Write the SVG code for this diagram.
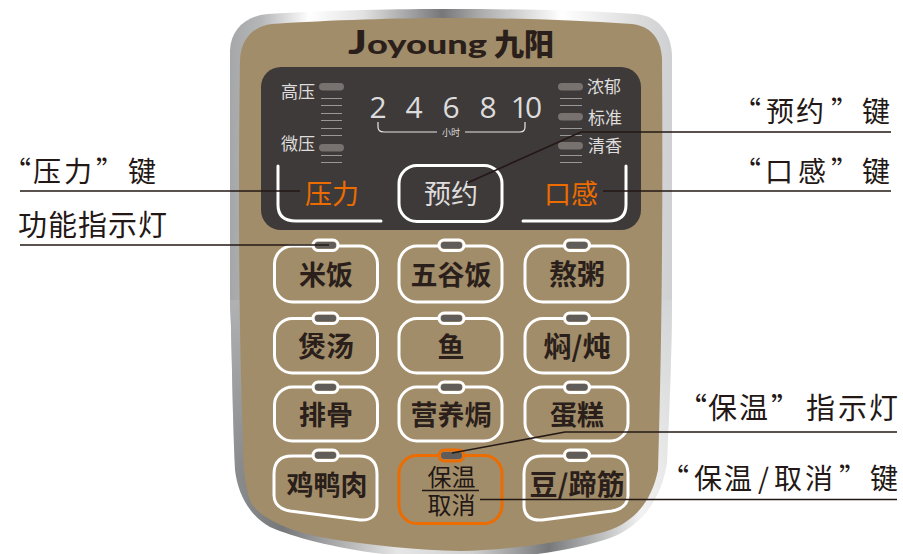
<svg xmlns="http://www.w3.org/2000/svg" width="903" height="554" viewBox="0 0 903 554">
<style>
text{font-family:"Noto Sans CJK SC","Noto Sans",sans-serif}
.btn{fill:none;stroke:#fff;stroke-width:3}
.ledo{fill:#a28d6a;stroke:#fff;stroke-width:3}
.led{fill:#5f5c5a}
.t{font-size:27px;font-weight:700;fill:#2a1f1a;text-anchor:middle}
.w{font-size:28px}
.lab{font-size:28px;fill:#231815}
.ln{fill:none;stroke:#231815;stroke-width:1.6}
.tick{stroke:#9a9896;stroke-width:1}
.pill{fill:#77726f}
.sm{font-size:17px;fill:#dedddc}
.num{font-family:"Open Sans","Noto Sans",sans-serif;font-size:30px;fill:#dcdcdc;text-anchor:middle}
.or{font-size:27px;fill:#ec6c00}
.wl{fill:none;stroke:#fff;stroke-width:3;stroke-linecap:round}
</style>
<defs>
<linearGradient id="gt" gradientUnits="userSpaceOnUse" x1="230" y1="0" x2="672" y2="0">
<stop offset="0" stop-color="#a5a7a9"/><stop offset=".07" stop-color="#b5b6b8"/><stop offset=".18" stop-color="#fff"/><stop offset=".3" stop-color="#e2e2e2"/><stop offset=".48" stop-color="#77777a"/><stop offset=".56" stop-color="#a8a8a8"/><stop offset=".75" stop-color="#fff"/><stop offset=".92" stop-color="#dcdcdc"/><stop offset="1" stop-color="#cfd0d2"/>
</linearGradient>
<linearGradient id="gb" gradientUnits="userSpaceOnUse" x1="230" y1="0" x2="672" y2="0">
<stop offset="0" stop-color="#8d8e90"/><stop offset=".12" stop-color="#77787a"/><stop offset=".38" stop-color="#e6e6e6"/><stop offset=".55" stop-color="#d0d0d0"/><stop offset=".72" stop-color="#77787a"/><stop offset=".93" stop-color="#f2f2f2"/><stop offset="1" stop-color="#e6e6e6"/>
</linearGradient>
<linearGradient id="fl" gradientUnits="userSpaceOnUse" x1="0" y1="300" x2="0" y2="470">
<stop offset="0" stop-color="#b0b1b3"/><stop offset="1" stop-color="#b0b1b3" stop-opacity="0"/>
</linearGradient>
<linearGradient id="fr" gradientUnits="userSpaceOnUse" x1="0" y1="300" x2="0" y2="470">
<stop offset="0" stop-color="#d4d5d6"/><stop offset="1" stop-color="#d4d5d6" stop-opacity="0"/>
</linearGradient>
</defs>
<g id="body">
<path d="M230 301V50C231 30 245 16 268 14C330 10 400 9 451 9C510 9 570 10 636 14C658 16 671 32 672 55V301Z" fill="url(#gt)"/>
<path d="M230 300C232 340 232 400 235 470C238 495 250 516 270 527C300 540 350 552 420 558H490C540 556 580 548 610 538C645 525 662 495 667 463C670 400 672 340 672 300Z" fill="url(#gb)"/>
<path d="M230 300C232 340 232 400 235 470H245V300Z" fill="url(#fl)"/>
<path d="M672 300C672 340 670 400 667 470H655V300Z" fill="url(#fr)"/>
<path d="M240 60C241 38 254 26 272 24C330 20 400 18 451 18C510 18 570 20 632 24C650 26 661 38 662 58C663 200 662 340 658 470C650 510 625 527 600 533C550 545 500 550 460 551C420 550 370 546 320 537C285 530 255 515 250 500C245 485 243 470 243 440C239 340 238 200 240 60Z" fill="#a28d6a"/>
</g>
<g id="logo"><text x="348" y="54" style="font-family:Lato,sans-serif;font-weight:900;font-size:27px;fill:#2a1f1a" textLength="139" lengthAdjust="spacingAndGlyphs"><tspan style="font-size:33px">J</tspan>oyoung</text><text x="494" y="55" style="font-size:30px;font-weight:900;fill:#2a1f1a">九阳</text></g>
<g id="panel">
<rect x="261" y="67" width="380" height="163" rx="20" fill="#3e3a39"/>
<g id="level-left">
<path class="tick" d="M321 98.500h21M321 105.500h21M321 113.500h21M321 120.500h21M321 128.500h21M321 135.500h21M321 155.500h21M321 162.500h21"/>
<rect class="pill" x="319" y="83" width="25" height="7.500" rx="3.700"/><rect class="pill" x="319" y="144" width="25" height="7.500" rx="3.700"/>
<text class="sm" x="281" y="98">高压</text><text class="sm" x="281" y="150">微压</text>
</g>
<g id="level-right">
<path class="tick" d="M560 98.500h22M560 105.500h22M560 128.500h22M560 135.500h22M560 155.500h22M560 162.500h22"/>
<rect class="pill" x="558" y="83" width="25" height="7.500" rx="3.700"/><rect class="pill" x="558" y="113" width="25" height="7.500" rx="3.700"/><rect class="pill" x="558" y="142" width="25" height="7.500" rx="3.700"/>
<text class="sm" x="587" y="93">浓郁</text><text class="sm" x="588" y="124">标准</text><text class="sm" x="588" y="152">清香</text>
</g>
<g id="hours">
<text class="num" x="378" y="118">2</text><text class="num" x="414" y="118">4</text><text class="num" x="451" y="118">6</text><text class="num" x="488" y="118">8</text><text class="num" x="525" y="118" letter-spacing="-3">10</text>
<path d="M378 122V127Q378 132 384 132H437M465 132H520Q525 132 525 127V122" fill="none" stroke="#e8e8e8" stroke-width="1.200"/>
<text x="451" y="136" text-anchor="middle" style="font-size:9px;fill:#dedddc">小时</text>
</g>
<g id="key-pressure"><path class="wl" d="M278 166V205Q278 221 296 221H381"/><text class="or" x="305" y="204">压力</text></g>
<g id="key-timer"><rect class="btn" x="399" y="165.500" width="103" height="56" rx="18"/><text x="451" y="204" text-anchor="middle" style="font-size:27px;fill:#dedddc">预约</text></g>
<g id="key-taste"><path class="wl" d="M626 166V205Q626 221 608 221H523"/><text class="or" x="544" y="204">口感</text></g>
</g>
<g id="b-rice"><rect class="btn" x="274.500" y="246" width="103" height="56" rx="18"/><rect class="ledo" x="313" y="240" width="25" height="10.500" rx="5.200"/><rect class="led" x="315" y="242" width="21" height="6.500" rx="3.200"/><text class="t" x="326" y="285">米饭</text></g>
<g id="b-grain"><rect class="btn" x="399" y="246" width="103" height="56" rx="18"/><rect class="ledo" x="439" y="240" width="25" height="10.500" rx="5.200"/><rect class="led" x="441" y="242" width="21" height="6.500" rx="3.200"/><text class="t" x="451" y="285">五谷饭</text></g>
<g id="b-congee"><rect class="btn" x="525" y="246" width="103" height="56" rx="18"/><rect class="ledo" x="564.500" y="240" width="25" height="10.500" rx="5.200"/><rect class="led" x="566.500" y="242" width="21" height="6.500" rx="3.200"/><text class="t w" x="577" y="285">熬粥</text></g>
<g id="b-soup"><rect class="btn" x="274.500" y="318.500" width="103" height="54.500" rx="18"/><rect class="ledo" x="313" y="313" width="25" height="10.500" rx="5.200"/><rect class="led" x="315" y="315" width="21" height="6.500" rx="3.200"/><text class="t w" x="326" y="357">煲汤</text></g>
<g id="b-fish"><rect class="btn" x="399" y="318.500" width="103" height="54.500" rx="18"/><rect class="ledo" x="439" y="313" width="25" height="10.500" rx="5.200"/><rect class="led" x="441" y="315" width="21" height="6.500" rx="3.200"/><text class="t" x="451" y="357">鱼</text></g>
<g id="b-stew"><rect class="btn" x="525" y="318.500" width="103" height="54.500" rx="18"/><rect class="ledo" x="564.500" y="313" width="25" height="10.500" rx="5.200"/><rect class="led" x="566.500" y="315" width="21" height="6.500" rx="3.200"/><text class="t w" x="577" y="357">焖/炖</text></g>
<g id="b-ribs"><rect class="btn" x="274.500" y="387" width="103" height="54" rx="18"/><rect class="ledo" x="313" y="382" width="25" height="10.500" rx="5.200"/><rect class="led" x="315" y="384" width="21" height="6.500" rx="3.200"/><text class="t" x="326" y="425">排骨</text></g>
<g id="b-nutri"><rect class="btn" x="399" y="387" width="103" height="54" rx="18"/><rect class="ledo" x="439" y="382" width="25" height="10.500" rx="5.200"/><rect class="led" x="441" y="384" width="21" height="6.500" rx="3.200"/><text class="t" x="451" y="425">营养焗</text></g>
<g id="b-cake"><rect class="btn" x="525" y="387" width="103" height="54" rx="18"/><rect class="ledo" x="564.500" y="382" width="25" height="10.500" rx="5.200"/><rect class="led" x="566.500" y="384" width="21" height="6.500" rx="3.200"/><text class="t" x="577" y="425">蛋糕</text></g>
<g id="b-meat"><path class="btn" d="M292 456H359Q377 456 377 474V505Q377 521 360 520L290 511Q274 508 274 495V474Q274 456 292 456Z"/><rect class="ledo" x="313" y="450" width="25" height="10.500" rx="5.200"/><rect class="led" x="315" y="452" width="21" height="6.500" rx="3.200"/><text class="t" x="327" y="495">鸡鸭肉</text></g>
<g id="b-keep"><rect x="399" y="455.500" width="103" height="68" rx="18" fill="none" stroke="#ec6c00" stroke-width="3"/><rect x="439" y="450" width="25" height="11" rx="5.500" fill="#a28d6a" stroke="#ec6c00" stroke-width="3"/><rect class="led" x="441" y="452" width="21" height="7" rx="3.200"/><text x="451.500" y="486" text-anchor="middle" style="font-size:24px;fill:#231815">保温</text><path d="M422 490.500H479" stroke="#231815" stroke-width="1.500"/><text x="451.500" y="514" text-anchor="middle" style="font-size:24px;fill:#231815">取消</text></g>
<g id="b-bean"><path class="btn" d="M542 456H610Q628 456 628 474V495Q628 508 612 511L542 520Q524 521 524 505V474Q524 456 542 456Z"/><rect class="ledo" x="564.500" y="450" width="25" height="10.500" rx="5.200"/><rect class="led" x="566.500" y="452" width="21" height="6.500" rx="3.200"/><text class="t w" x="577" y="495">豆/蹄筋</text></g>
<g id="connectors">
<path class="ln" d="M20 191H300"/>
<path class="ln" d="M20 245H329"/>
<path class="ln" d="M891 132H581L467 183"/>
<path class="ln" d="M603 191H891"/>
<path class="ln" d="M897 432H565L452 453"/>
<path class="ln" d="M480 499.500H897"/>
</g>
<g id="labels">
<text class="lab" y="182" x="3 33 64 96 128">“压力”键</text>
<text class="lab" y="236" x="18 48 78 108 138" style="font-size:29px">功能指示灯</text>
<text class="lab" y="122" x="733 766 796 831 862">“预约”键</text>
<text class="lab" y="182" x="733 765 798 831 862">“口感”键</text>
<text class="lab" y="419" x="678 708 739 771 806 838 869" style="font-size:29px">“保温”指示灯</text>
<text class="lab" y="489" x="661 694 724 758 774 805 839 870" style="font-size:28px">“保温/取消”键</text>
</g>
</svg>
